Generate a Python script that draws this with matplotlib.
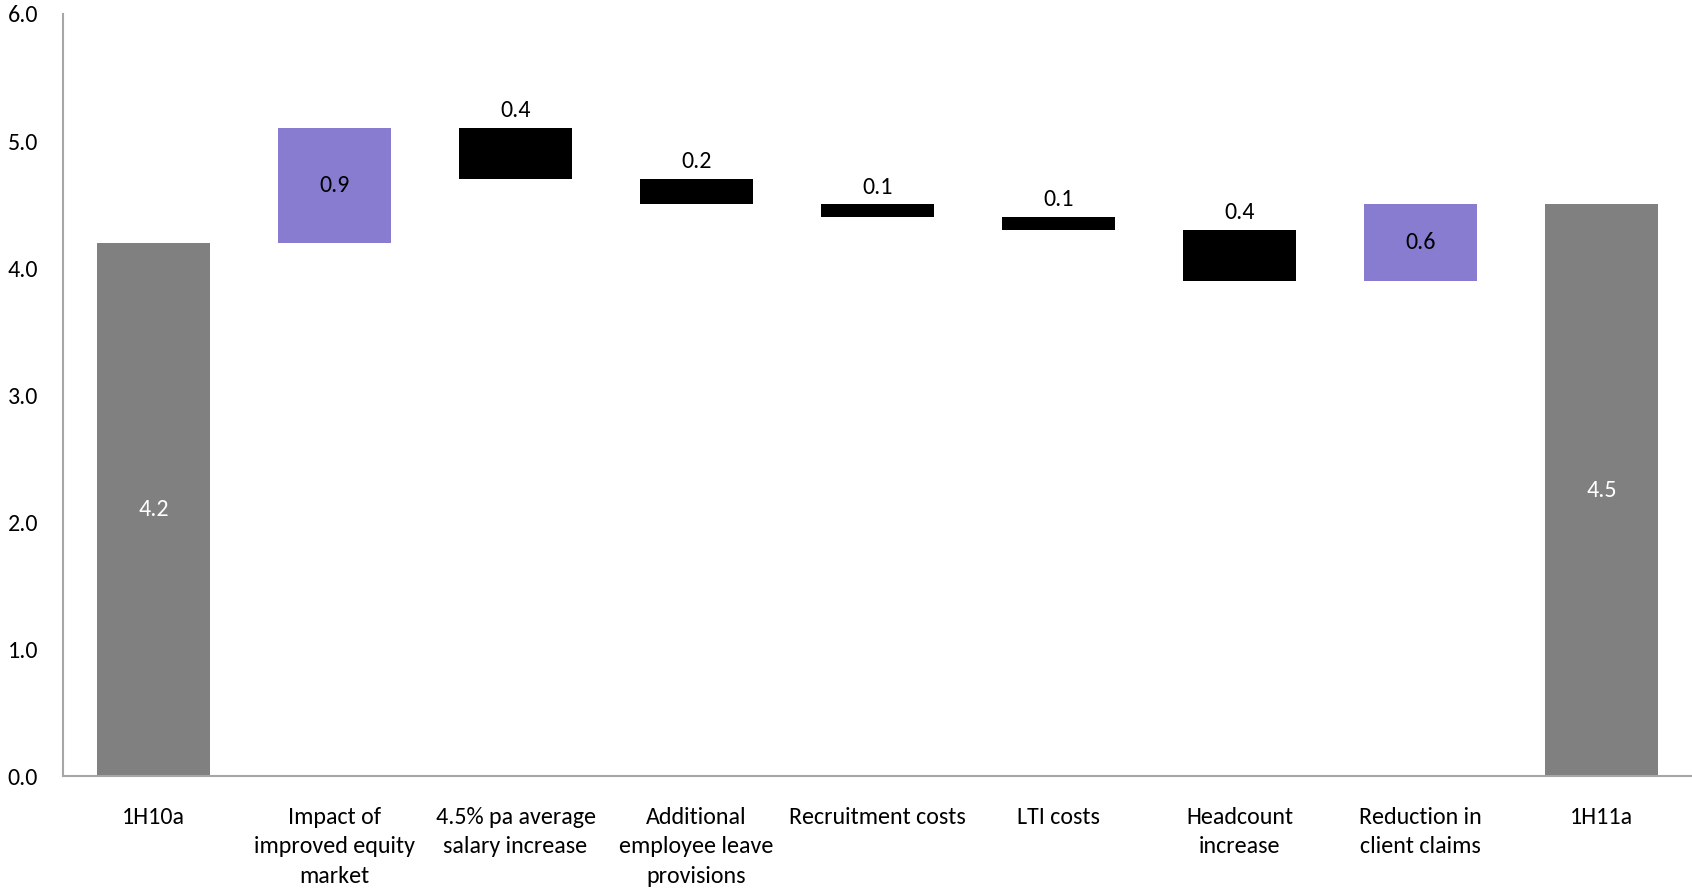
import matplotlib
matplotlib.use("Agg")
import matplotlib.pyplot as plt
from matplotlib import font_manager

# Waterfall data: opening total, movements, closing total
categories = [
    "1H10a",
    "Impact of\nimproved equity\nmarket",
    "4.5% pa average\nsalary increase",
    "Additional\nemployee leave\nprovisions",
    "Recruitment costs",
    "LTI costs",
    "Headcount\nincrease",
    "Reduction in\nclient claims",
    "1H11a",
]
opening = 4.2
movements = [0.9, -0.4, -0.2, -0.1, -0.1, -0.4, 0.6]
closing = 4.5
yticks = [0.0, 1.0, 2.0, 3.0, 4.0, 5.0, 6.0]

available = {f.name for f in font_manager.fontManager.ttflist}
family = "DejaVu Sans"
for cand in ["Carlito", "Lato", "Open Sans"]:
    if cand in available:
        family = cand
        break
plt.rcParams["font.family"] = [family, "DejaVu Sans"]
fs = 17.3

GREY = "#808080"
PURPLE = "#877CD0"
BLACK = "#000000"
AXIS = "#A6A6A6"

fig = plt.figure(figsize=(16.92, 8.88), dpi=100)
ax = fig.add_axes([63 / 1692, 112 / 888, 1 - 63 / 1692, (776 - 14) / 888])

width = 0.625
x = list(range(len(categories)))

# opening total
ax.bar(x[0], opening, width=width, color=GREY)
ax.text(x[0], opening / 2, f"{opening:.1f}", ha="center", va="center",
        color="white", fontsize=fs)

level = opening
for i, d in enumerate(movements, start=1):
    bottom = level if d > 0 else level + d
    color = PURPLE if d > 0 else BLACK
    ax.bar(x[i], abs(d), bottom=bottom, width=width, color=color)
    if d > 0:
        ax.text(x[i], bottom + abs(d) / 2, f"{abs(d):.1f}", ha="center",
                va="center", color="black", fontsize=fs)
    else:
        ax.annotate(f"{abs(d):.1f}", xy=(x[i], level), xytext=(0, 5),
                    textcoords="offset points", ha="center", va="bottom",
                    color="black", fontsize=fs)
    level += d

# closing total
ax.bar(x[-1], closing, width=width, color=GREY)
ax.text(x[-1], closing / 2, f"{closing:.1f}", ha="center", va="center",
        color="white", fontsize=fs)

ax.set_xlim(-0.5, len(categories) - 0.5)
ax.set_ylim(0, 6)
ax.set_yticks(yticks)
ax.set_yticklabels([f"{v:.1f}" for v in yticks], fontsize=fs)
ax.set_xticks(x)
ax.set_xticklabels(categories, fontsize=fs, linespacing=1.5, va="top")
ax.tick_params(axis="both", length=0)
ax.tick_params(axis="y", pad=18)
ax.tick_params(axis="x", pad=22)

for side in ["top", "right"]:
    ax.spines[side].set_visible(False)
for side in ["left", "bottom"]:
    ax.spines[side].set_color(AXIS)
    ax.spines[side].set_linewidth(1.5)

fig.savefig("out.png", dpi=100, facecolor="white")
